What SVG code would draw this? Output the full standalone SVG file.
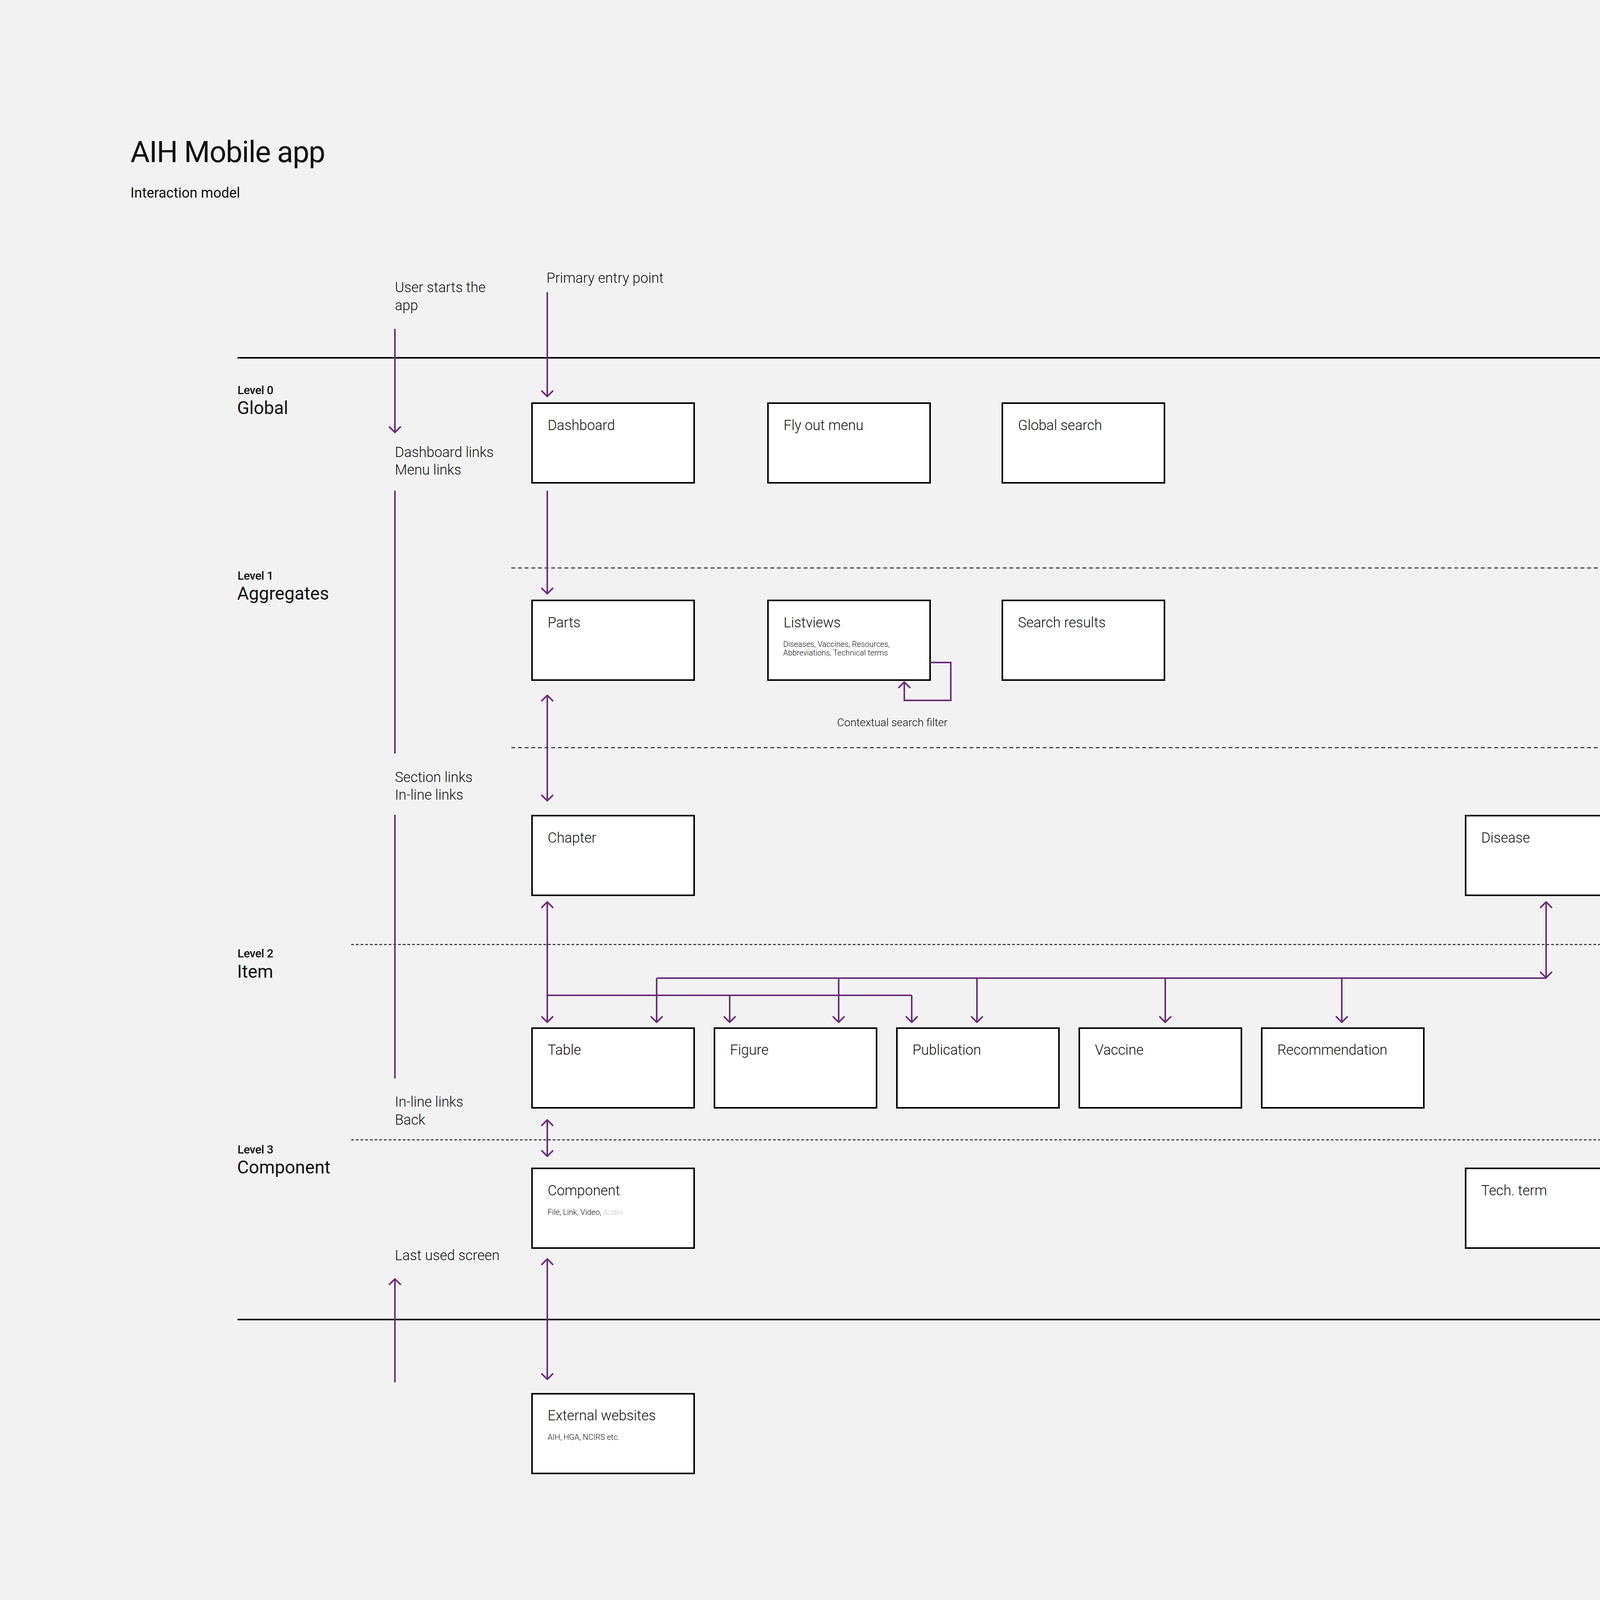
<svg xmlns="http://www.w3.org/2000/svg" width="5810" height="4348" viewBox="0 0 5810 4348">
<style>
text{font-family:"Roboto","Liberation Sans",sans-serif;fill:#111}
.title{font-size:76px;font-weight:400;letter-spacing:-1.5px}
.subtitle{font-size:36px;font-weight:400}
.lvl{font-size:30px;font-weight:500;letter-spacing:-0.5px}
.lvlname{font-size:46px;font-weight:400}
.lbl{font-size:36px;font-weight:300}
.small{font-size:28px;font-weight:300}
.sub{font-size:20px;font-weight:300}
.faint{fill:#c8c8c8}
.box{fill:#fff;stroke:#000;stroke-width:4}
.solid{stroke:#000;stroke-width:4;fill:none}
.dash1{stroke:#222;stroke-width:2.5;stroke-dasharray:10 7;fill:none}
.dash2{stroke:#222;stroke-width:2.5;stroke-dasharray:7 5;fill:none}
.conn{stroke:#6b2d7b;stroke-width:4;fill:none}
.arr{marker-end:url(#ah)}
.arr2{marker-start:url(#ah);marker-end:url(#ah)}
</style>
<defs>
<marker id="ah" viewBox="-18 -18 36 36" refX="0" refY="0" markerWidth="36" markerHeight="36" markerUnits="userSpaceOnUse" orient="auto-start-reverse">
<path d="M-14,-14 L0,0 L-14,14" fill="none" stroke="#6b2d7b" stroke-width="4" stroke-linecap="round" stroke-linejoin="round"/>
</marker>
</defs>
<rect x="0" y="0" width="5810" height="4348" fill="#f2f2f2"/>

<g id="header">
<text class="title" x="334" y="415">AIH Mobile app</text>
<text class="subtitle" x="334" y="506">Interaction model</text>
</g>

<g id="level-lines">
<line class="solid" x1="608" y1="916" x2="5065" y2="916"/>
<line class="dash1" x1="1309" y1="1454" x2="5065" y2="1454"/>
<line class="dash1" x1="1309" y1="1914" x2="5065" y2="1914"/>
<line class="dash2" x1="899" y1="2418" x2="5065" y2="2418"/>
<line class="dash2" x1="899" y1="2918" x2="5065" y2="2918"/>
<line class="solid" x1="608" y1="3378" x2="5065" y2="3378"/>
</g>

<g id="level-labels">
<text class="lvl" x="608" y="1009">Level 0</text>
<text class="lvlname" x="607" y="1060">Global</text>
<text class="lvl" x="608" y="1484">Level 1</text>
<text class="lvlname" x="607" y="1535">Aggregates</text>
<text class="lvl" x="608" y="2451">Level 2</text>
<text class="lvlname" x="607" y="2503">Item</text>
<text class="lvl" x="608" y="2953">Level 3</text>
<text class="lvlname" x="607" y="3004">Component</text>
</g>

<g id="flow-labels">
<text class="lbl" x="1011" y="748">User starts the</text>
<text class="lbl" x="1011" y="794">app</text>
<text class="lbl" x="1399" y="724">Primary entry point</text>
<text class="lbl" x="1011" y="1170">Dashboard links</text>
<text class="lbl" x="1011" y="1215">Menu links</text>
<text class="lbl" x="1011" y="2002">Section links</text>
<text class="lbl" x="1011" y="2047">In-line links</text>
<text class="lbl" x="1011" y="2833">In-line links</text>
<text class="lbl" x="1011" y="2879">Back</text>
<text class="lbl" x="1011" y="3226">Last used screen</text>
<text class="small" x="2143" y="1859">Contextual search filter</text>
</g>

<g id="node-dashboard"><rect class="box" x="1362" y="1032" width="415" height="204"/><text class="lbl" x="1402" y="1101">Dashboard</text></g>
<g id="node-flyout"><rect class="box" x="1966" y="1032" width="415" height="204"/><text class="lbl" x="2006" y="1101">Fly out menu</text></g>
<g id="node-globalsearch"><rect class="box" x="2566" y="1032" width="415" height="204"/><text class="lbl" x="2606" y="1101">Global search</text></g>

<g id="node-parts"><rect class="box" x="1362" y="1537" width="415" height="204"/><text class="lbl" x="1402" y="1606">Parts</text></g>
<g id="node-listviews"><rect class="box" x="1966" y="1537" width="415" height="204"/><text class="lbl" x="2006" y="1606">Listviews</text><text class="sub" x="2005" y="1656">Diseases, Vaccines, Resources,</text><text class="sub" x="2005" y="1678">Abbreviations, Technical terms</text></g>
<g id="node-searchresults"><rect class="box" x="2566" y="1537" width="415" height="204"/><text class="lbl" x="2606" y="1606">Search results</text></g>

<g id="node-chapter"><rect class="box" x="1362" y="2088" width="415" height="204"/><text class="lbl" x="1402" y="2157">Chapter</text></g>
<g id="node-disease"><rect class="box" x="3752" y="2088" width="415" height="204"/><text class="lbl" x="3792" y="2157">Disease</text></g>

<g id="node-table"><rect class="box" x="1362" y="2632" width="415" height="204"/><text class="lbl" x="1402" y="2700">Table</text></g>
<g id="node-figure"><rect class="box" x="1829" y="2632" width="415" height="204"/><text class="lbl" x="1869" y="2700">Figure</text></g>
<g id="node-publication"><rect class="box" x="2296" y="2632" width="415" height="204"/><text class="lbl" x="2336" y="2700">Publication</text></g>
<g id="node-vaccine"><rect class="box" x="2763" y="2632" width="415" height="204"/><text class="lbl" x="2803" y="2700">Vaccine</text></g>
<g id="node-recommendation"><rect class="box" x="3230" y="2632" width="415" height="204"/><text class="lbl" x="3270" y="2700">Recommendation</text></g>

<g id="node-component"><rect class="box" x="1362" y="2991" width="415" height="204"/><text class="lbl" x="1402" y="3060">Component</text><text class="sub" x="1402" y="3110">File, Link, Video, <tspan class="faint">Audio</tspan></text></g>
<g id="node-techterm"><rect class="box" x="3752" y="2991" width="415" height="204"/><text class="lbl" x="3792" y="3060">Tech. term</text></g>
<g id="node-abbreviation"><rect class="box" x="4240" y="2991" width="415" height="204"/><text class="lbl" x="4280" y="3060">Abbreviation</text></g>

<g id="node-external"><rect class="box" x="1362" y="3568" width="415" height="204"/><text class="lbl" x="1402" y="3636">External websites</text><text class="sub" x="1402" y="3686">AIH, HGA, NCIRS etc.</text></g>

<g id="connectors">
<line class="conn arr" x1="1011" y1="842" x2="1011" y2="1107"/>
<line class="conn" x1="1011" y1="1256" x2="1011" y2="1929"/>
<line class="conn" x1="1011" y1="2086" x2="1011" y2="2761"/>
<line class="conn arr" x1="1011" y1="3539" x2="1011" y2="3274"/>
<line class="conn arr" x1="1401" y1="748" x2="1401" y2="1015"/>
<line class="conn arr" x1="1401" y1="1256" x2="1401" y2="1520"/>
<line class="conn arr2" x1="1401" y1="1780" x2="1401" y2="2050"/>
<line class="conn arr2" x1="1401" y1="2309" x2="1401" y2="2617"/>
<line class="conn arr2" x1="1401" y1="2867" x2="1401" y2="2960"/>
<line class="conn arr2" x1="1401" y1="3223" x2="1401" y2="3531"/>
<path class="conn arr" d="M2381,1696 H2434 V1793 H2315 V1746"/>
<path class="conn" d="M1401,2548 H2334"/>
<line class="conn arr" x1="1868" y1="2548" x2="1868" y2="2617"/>
<line class="conn arr" x1="2334" y1="2548" x2="2334" y2="2617"/>
<path class="conn" d="M1681,2504 H3958"/>
<line class="conn arr" x1="1681" y1="2504" x2="1681" y2="2617"/>
<line class="conn arr" x1="2147" y1="2504" x2="2147" y2="2617"/>
<line class="conn arr" x1="2501" y1="2504" x2="2501" y2="2617"/>
<line class="conn arr" x1="2983" y1="2504" x2="2983" y2="2617"/>
<line class="conn arr" x1="3435" y1="2504" x2="3435" y2="2617"/>
<line class="conn arr2" x1="3958" y1="2309" x2="3958" y2="2503"/>
</g>
</svg>
